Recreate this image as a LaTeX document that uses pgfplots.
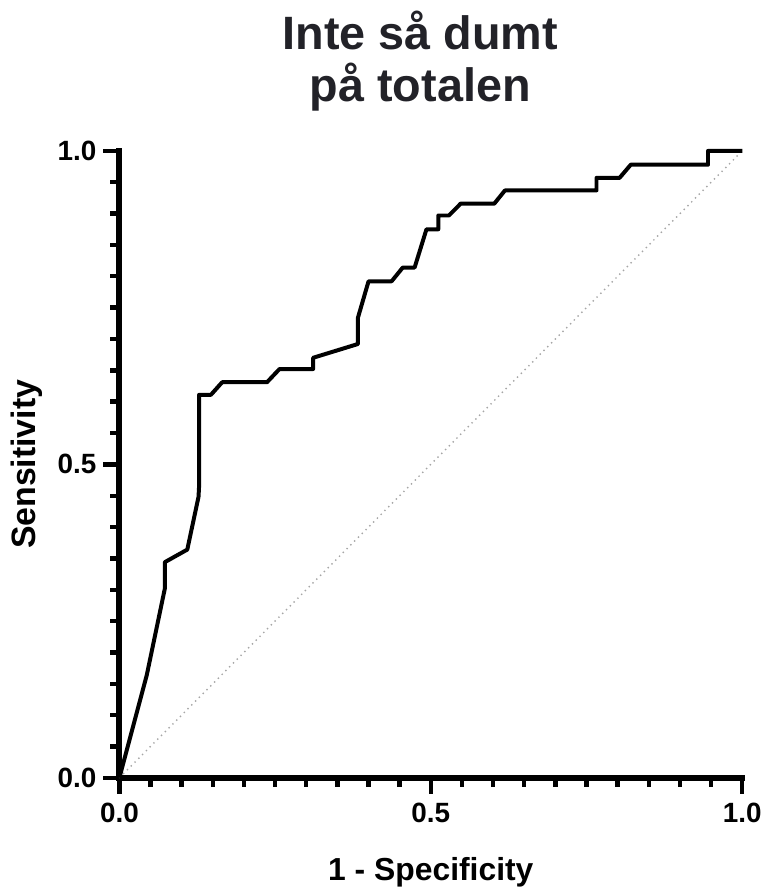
\documentclass[border=0pt]{standalone}
\usepackage{fontspec}
\setmainfont{Liberation Sans}
\usepackage{pgfplots}
\pgfplotsset{compat=1.18}
\usetikzlibrary{calc}
\definecolor{titlegray}{HTML}{222228}

\begin{document}
\begin{tikzpicture}
\begin{axis}[
  scale only axis,
  width=313pt, height=315pt,
  xmin=0, xmax=1, ymin=0, ymax=1,
  axis lines=left,
  axis line style={line width=3pt, -, line cap=rect},
  clip=false,
  xtick={0,0.5,1}, ytick={0,0.5,1},
  xticklabels={0.0,0.5,1.0}, yticklabels={0.0,0.5,1.0},
  minor x tick num=9, minor y tick num=9,
  tick align=outside,
  major tick length=8pt, minor tick length=4.5pt,
  every tick/.style={line width=2.2pt, black},
  tick label style={font=\bfseries\fontsize{14}{16}\selectfont},
  xticklabel style={anchor=base, yshift=-14.5pt},
  /pgf/number format/assume math mode=true,
  title={Inte så dumt\\på totalen},
  title style={font=\bfseries\fontsize{23.5}{25.85}\selectfont, text=titlegray,
    align=center, at={(axis description cs:0.483,1)}, anchor=south,
    inner sep=0pt, yshift=14pt},
  xlabel={1 - Specificity},
  ylabel={Sensitivity},
  xlabel style={font=\bfseries\fontsize{16}{19}\selectfont,
    at={(axis description cs:0.5,-0.1643)}, anchor=base},
  ylabel style={font=\bfseries\fontsize{17}{20}\selectfont,
    at={(axis description cs:-0.1339,0.5)}, anchor=base},
]
% chance line
\addplot[gray!70, dotted, line width=0.7pt] coordinates {(0,0) (1,1)};
% ROC curve
\addplot[black, line width=2pt, line join=round] coordinates {
  (0,0) (0.044,0.164) (0.073,0.302) (0.073,0.344) (0.109,0.364)
  (0.127,0.448) (0.128,0.466) (0.128,0.611) (0.147,0.611) (0.165,0.631)
  (0.237,0.631) (0.257,0.652) (0.311,0.652) (0.311,0.670) (0.383,0.692)
  (0.383,0.734) (0.400,0.792) (0.437,0.792) (0.455,0.814) (0.474,0.814)
  (0.493,0.875) (0.512,0.875) (0.512,0.897) (0.529,0.897) (0.548,0.916)
  (0.602,0.916) (0.619,0.937) (0.766,0.937) (0.766,0.957) (0.803,0.957)
  (0.821,0.978) (0.945,0.978) (0.945,1.0) (1,1)
};
\coordinate (lowleft) at (rel axis cs:0,0);
\coordinate (upright) at (rel axis cs:1,1);
\end{axis}
% page frame around the plot
\path ($(lowleft)+(-60pt,-56.25pt)$) rectangle ($(upright)+(11.65pt,75.85pt)$);
\end{tikzpicture}
\end{document}
